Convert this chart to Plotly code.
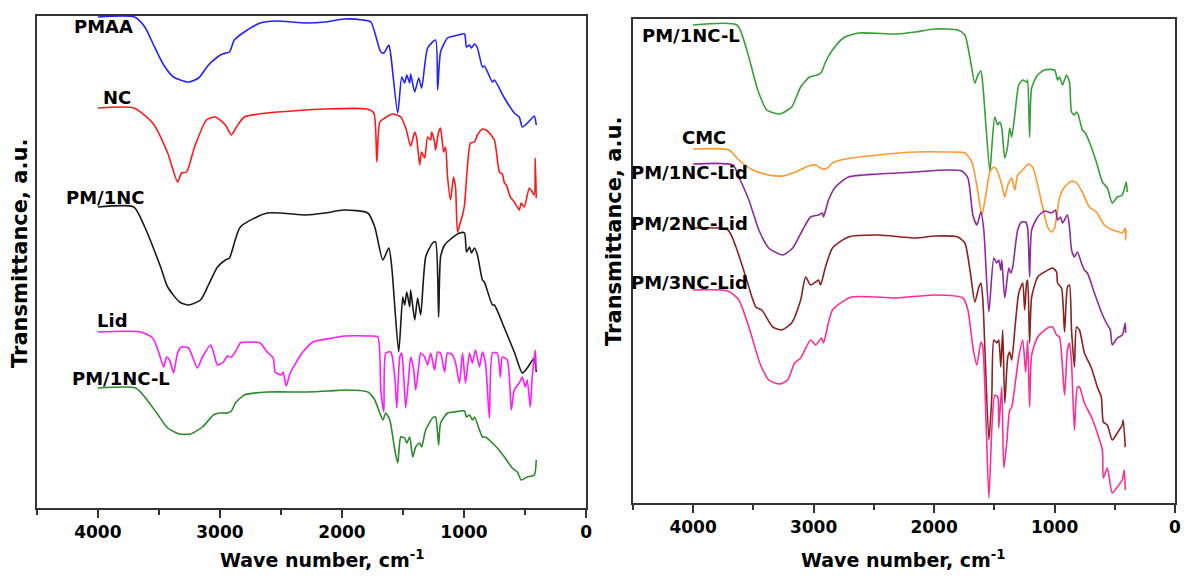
import plotly.graph_objects as go

# ---------------- Left panel data (wavenumber cm-1, transmittance a.u. offset) ----------------
PMAA_WN = [4000,3700,3615,3551,3461,3380,3257,3175,3094,3020,2980,2922,2882,2800,2669,2547,2294,2139,1984,1829,1763,1682,1657,1616,1600,1543,1510,1486,1469,1445,1437,1404,1371,1347,1298,1233,1216,1192,1135,1078,996,980,955,939,914,890,849,833,767,751,669,588,547,522,457,424,408]
PMAA_T = [491,491,481,465,443,431,426,430,443,451,454,456,468,476,485,487,485,486,489,488,486,456,455,463,453,395,431,425,433,425,434,416,430,420,460,468,418,456,470,472,474,461,463,460,464,460,441,442,426,428,410,395,391,381,388,392,383]

NC_WN = [4000,3706,3551,3428,3347,3314,3273,3208,3110,3037,2955,2906,2865,2800,2612,2139,1796,1739,1714,1690,1649,1584,1518,1477,1437,1404,1388,1363,1347,1322,1298,1273,1265,1241,1233,1208,1192,1167,1151,1135,1110,1086,1069,1053,1029,1012,996,971,947,914,890,849,808,751,710,686,669,653,620,588,563,547,531,506,465,441,424,416,408]
NC_T = [400,400,385,355,326,335,336,361,388,391,383,373,381,391,395,399,399,395,346,386,390,394,391,380,362,376,370,343,356,350,371,368,376,366,358,376,380,356,361,331,308,331,320,276,286,293,303,343,365,366,373,379,377,368,336,334,325,323,311,306,301,298,305,301,320,316,313,350,310]

PM1NC_WN = [4000,3706,3616,3486,3428,3331,3257,3159,3094,3020,2955,2922,2833,2612,2294,2139,1984,1788,1731,1665,1616,1592,1535,1502,1486,1469,1445,1437,1404,1380,1355,1314,1257,1233,1208,1192,1159,1118,1037,996,980,955,939,914,890,849,833,767,751,669,588,522,482,424,416,408]
PM1NC_T = [301,301,281,241,221,206,203,208,223,241,248,250,281,295,293,295,298,295,281,248,260,241,156,211,203,216,201,218,188,210,193,251,265,266,191,251,263,268,275,275,256,261,255,260,253,228,226,203,203,180,156,135,140,150,145,136]

LID_WN = [4000,3649,3551,3502,3461,3437,3412,3380,3347,3314,3257,3224,3184,3143,3077,3053,3020,2971,2939,2906,2865,2833,2735,2669,2612,2563,2547,2498,2482,2457,2424,2326,2237,2073,1984,1763,1706,1682,1657,1641,1600,1567,1551,1526,1510,1494,1478,1453,1437,1412,1396,1371,1355,1322,1298,1273,1241,1216,1192,1159,1135,1094,1069,1037,1012,988,955,931,906,873,849,824,792,767,727,702,686,645,612,588,547,522,498,482,457,441,416,408]
LID_T = [176,176,170,156,141,151,148,135,155,161,160,151,140,151,163,156,143,146,152,151,158,165,166,165,156,150,136,133,136,122,135,155,166,170,172,172,171,118,96,155,156,131,100,151,155,131,100,131,151,138,118,141,155,151,143,155,138,156,155,136,155,153,145,125,155,125,155,145,158,141,156,145,90,155,155,131,151,148,98,118,125,131,121,128,101,131,158,138]

PM1NCL_WN = [4000,3690,3616,3518,3428,3331,3241,3143,3053,3004,2939,2906,2873,2800,2612,2294,2106,1984,1788,1731,1690,1665,1641,1608,1567,1543,1518,1486,1469,1445,1420,1396,1363,1347,1314,1257,1233,1208,1192,1135,1078,996,980,955,931,914,873,849,824,767,727,669,604,563,531,482,424,408]
PM1NCL_T = [120,120,111,95,80,74,74,81,93,95,95,97,105,113,116,116,117,118,116,108,95,88,95,88,58,45,71,70,65,71,51,61,65,61,78,90,91,63,85,95,96,97,91,93,88,91,78,71,71,65,60,51,40,36,28,31,33,48]

# ---------------- Right panel data ----------------
R_PM1NCL_WN = [4000,3636,3554,3463,3388,3281,3182,3107,3033,2967,2934,2901,2843,2752,2628,2314,2157,1992,1802,1744,1702,1661,1636,1611,1595,1537,1521,1496,1471,1454,1438,1413,1388,1372,1355,1330,1297,1264,1231,1223,1207,1190,1140,1083,1000,975,959,934,901,876,859,835,818,802,769,744,711,653,603,562,521,479,438,405,397]
R_PM1NCL_T = [478,478,453,413,393,389,396,416,426,428,431,441,453,465,470,469,471,474,473,468,445,420,428,432,418,331,355,386,378,381,375,345,358,375,366,388,418,423,421,423,366,415,428,433,433,423,426,418,428,421,391,388,391,388,373,370,361,341,321,315,300,306,308,321,311]

CMC_WN = [4000,3702,3620,3504,3372,3256,3149,3041,2983,2926,2884,2843,2735,2463,2157,1909,1744,1686,1636,1603,1570,1537,1504,1471,1438,1413,1388,1355,1330,1306,1264,1215,1182,1140,1099,1058,1025,1000,959,917,859,818,769,711,653,587,521,463,438,413,410,405]
CMC_T = [354,353,343,333,328,327,331,337,338,334,335,340,344,348,351,351,350,341,311,288,308,331,336,331,318,306,318,325,313,328,333,339,336,318,296,276,271,275,305,316,322,320,311,296,291,278,273,271,270,275,263,273]

PM1LID_WN = [4000,3669,3620,3537,3454,3372,3256,3173,3091,3025,2959,2926,2917,2876,2818,2711,2463,2157,1909,1768,1719,1678,1645,1611,1587,1545,1504,1479,1463,1446,1438,1413,1380,1364,1347,1306,1273,1240,1223,1207,1190,1140,1083,1025,992,975,950,934,893,876,859,835,810,777,752,727,669,612,570,537,521,479,438,413,410]
PM1LID_T = [339,338,326,303,273,255,248,255,273,286,288,290,286,303,316,326,329,331,333,332,325,288,278,291,273,191,245,240,243,233,243,205,235,230,236,273,281,281,275,226,273,286,292,290,293,283,286,280,288,276,253,246,251,240,233,230,210,191,180,173,158,165,168,180,170]

PM2LID_WN = [4000,3711,3644,3562,3479,3430,3339,3264,3182,3107,3066,3025,2983,2959,2942,2901,2843,2711,2463,2157,1992,1802,1744,1702,1661,1628,1611,1595,1545,1521,1504,1479,1463,1446,1430,1413,1388,1372,1355,1330,1297,1264,1248,1231,1223,1207,1190,1140,1083,1016,983,975,942,917,893,876,859,835,818,793,752,694,645,612,595,562,521,479,438,430,413]
PM2LID_T = [275,273,256,226,196,193,176,173,180,203,226,218,221,223,218,236,255,266,268,265,267,266,260,233,201,216,220,203,63,106,163,160,163,136,173,100,146,151,143,173,210,220,193,221,223,160,206,226,231,235,231,220,215,171,216,218,173,136,176,173,150,135,116,106,81,78,63,70,78,83,56]

PM3LID_WN = [4000,3711,3620,3529,3446,3372,3281,3215,3157,3107,3025,2983,2934,2917,2843,2686,2314,2000,1760,1719,1678,1645,1611,1595,1545,1521,1496,1471,1463,1438,1421,1397,1372,1355,1330,1297,1264,1240,1223,1207,1190,1140,1058,1016,983,959,917,893,876,859,835,810,793,752,694,645,603,595,562,521,479,438,421,413]
PM3LID_T = [213,212,203,173,140,123,119,123,140,145,163,158,165,160,193,206,205,208,205,193,156,138,161,156,5,73,108,106,75,116,35,60,93,96,116,146,163,131,163,96,148,166,175,176,168,166,108,153,160,140,73,116,116,100,86,70,53,25,35,10,16,23,33,13]

# label names and label anchor positions (data coords)
LEFT_NAMES = ["PMAA", "NC", "PM/1NC", "Lid", "PM/1NC-L"]
LEFT_LABEL_WN = [3955, 3841, 3939, 3877, 3812]
LEFT_LABEL_T = [481, 410, 311, 188, 130]
RIGHT_NAMES = ["PM/1NC-L", "CMC", "PM/1NC-Lid", "PM/2NC-Lid", "PM/3NC-Lid"]
RIGHT_LABEL_WN = [4016, 3913, 4033, 4033, 4033]
RIGHT_LABEL_T = [468, 366, 331, 280, 221]

TICK_VALS = [4000, 3000, 2000, 1000, 0]

left_series = [(PMAA_WN, PMAA_T, "#2323ff"), (NC_WN, NC_T, "#ff1a1a"),
               (PM1NC_WN, PM1NC_T, "#1a1a1a"), (LID_WN, LID_T, "#ff1aff"),
               (PM1NCL_WN, PM1NCL_T, "#2a8c2a")]
right_series = [(R_PM1NCL_WN, R_PM1NCL_T, "#36a036"), (CMC_WN, CMC_T, "#ff992e"),
                (PM1LID_WN, PM1LID_T, "#8e2a9e"), (PM2LID_WN, PM2LID_T, "#8b2222"),
                (PM3LID_WN, PM3LID_T, "#ff2d95")]

LINE = dict(width=1.6, shape="spline", smoothing=0.6)

fig = go.Figure()
for (wn, t, c), name in zip(left_series, LEFT_NAMES):
    fig.add_trace(go.Scatter(x=wn, y=t, mode="lines", name=name,
                             line=dict(color=c, **LINE), xaxis="x", yaxis="y"))
for (wn, t, c), name in zip(right_series, RIGHT_NAMES):
    fig.add_trace(go.Scatter(x=wn, y=t, mode="lines", name=name,
                             line=dict(color=c, **LINE), xaxis="x2", yaxis="y2"))

# page is 1189x576, but the browser body keeps an 8px margin -> figure is 1181x568
OFF = 8
W, H = 1189 - OFF, 576 - OFF
FONT = "DejaVu Sans"
frame = "#333333"

def px(x):      # page x pixel -> paper fraction
    return (x - OFF) / W

def py(y):      # page y pixel -> paper fraction
    return (H - (y - OFF)) / H

def xax(domain, anchor):
    return dict(domain=domain, anchor=anchor, range=[4500, 0], tickvals=TICK_VALS,
                ticktext=[str(v) for v in TICK_VALS],
                ticks="outside", ticklen=8, tickwidth=2, tickcolor=frame,
                showline=True, linewidth=2, linecolor=frame, mirror=True,
                showgrid=False, zeroline=False,
                tickfont=dict(family=FONT, size=17, color="black", weight="bold"),
                minor=dict(tickvals=[4500, 3500, 2500, 1500, 500], ticks="outside",
                           ticklen=5, tickwidth=1.5, tickcolor=frame, showgrid=False))

def yax(domain, anchor, top):
    return dict(domain=domain, anchor=anchor, range=[0, top], showline=True,
                linewidth=2, linecolor=frame, mirror=True, ticks="",
                showticklabels=False, showgrid=False, zeroline=False)

annotations = []
lab_font = dict(family=FONT, size=18, color="black", weight="bold")
for n, xw, yt in zip(LEFT_NAMES, LEFT_LABEL_WN, LEFT_LABEL_T):
    annotations.append(dict(text=n, x=xw, y=yt, xref="x", yref="y", showarrow=False,
                            xanchor="center", yanchor="middle", font=lab_font))
for n, xw, yt in zip(RIGHT_NAMES, RIGHT_LABEL_WN, RIGHT_LABEL_T):
    annotations.append(dict(text=n, x=xw, y=yt, xref="x2", yref="y2", showarrow=False,
                            xanchor="center", yanchor="middle", font=lab_font))

title_font = dict(family=FONT, size=19, color="black", weight="bold")
ytitle_font = dict(family=FONT, size=21, color="black", weight="bold")
for xc in (px(324), px(908)):
    annotations.append(dict(text="Wave number, cm<sup>-1</sup>", x=xc, y=py(559),
                            xref="paper", yref="paper", showarrow=False,
                            xanchor="center", yanchor="middle", font=title_font))
for xc, yc in ((px(20), py(253)), (px(617), py(231))):
    annotations.append(dict(text="Transmittance, a.u.", x=xc, y=yc, xref="paper",
                            yref="paper", showarrow=False, textangle=-90,
                            xanchor="center", yanchor="middle", font=ytitle_font))

fig.update_layout(
    width=W, height=H, margin=dict(l=0, r=0, t=0, b=0),
    paper_bgcolor="white", plot_bgcolor="white", showlegend=False,
    xaxis=xax([px(37), px(589)], "y"),
    yaxis=yax([py(508), py(16)], "x", 492),
    xaxis2=xax([px(636), px(1181)], "y2"),
    yaxis2=yax([py(503), py(19)], "x2", 484),
    annotations=annotations,
)

fig.write_html("out.html")
